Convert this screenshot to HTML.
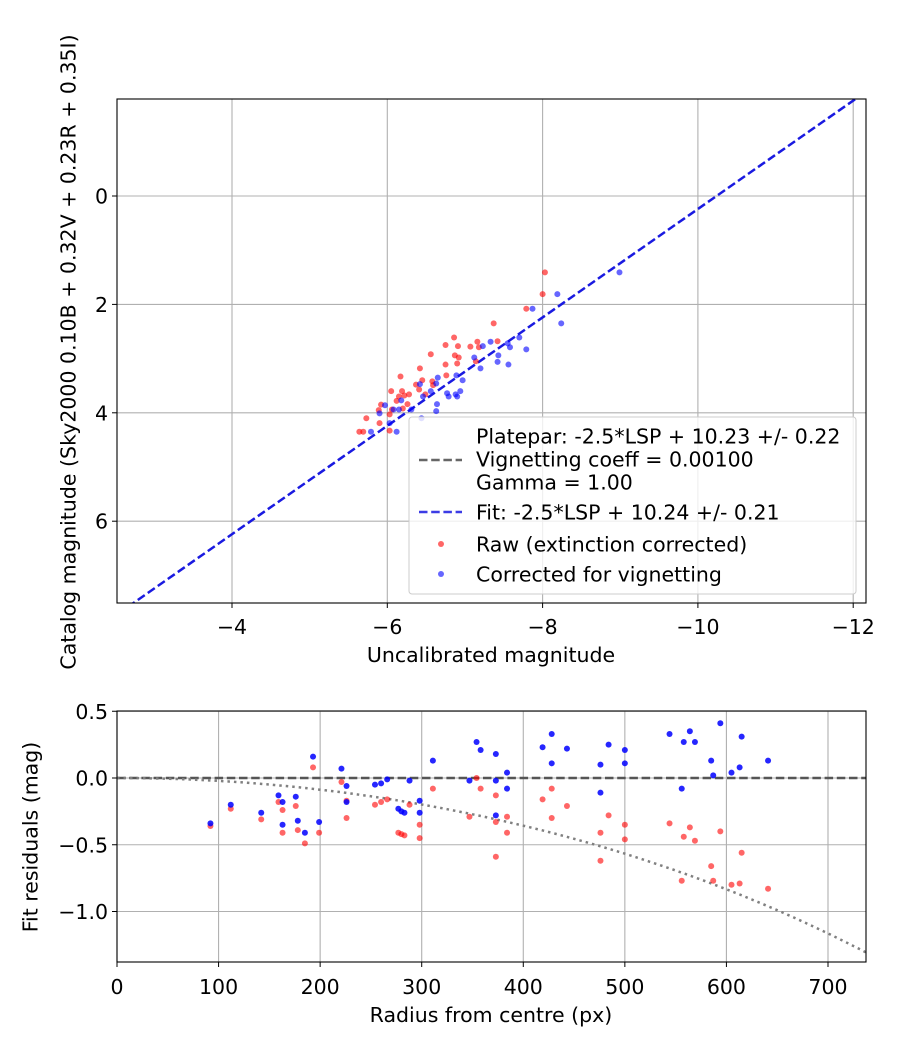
<!DOCTYPE html>
<html><head><meta charset="utf-8"><style>
body{margin:0;background:#fff;}
svg{display:block;font-family:"DejaVu Sans","Liberation Sans",sans-serif;}
</style></head><body>
<svg id="fig" width="900" height="1050" xmlns="http://www.w3.org/2000/svg"></svg>
<script>
// ---- top chart data ----
const rawX=[-8.03,-8.00,-7.79,-7.37,-7.42,-7.16,-7.07,-7.18,-6.86,-6.75,-6.91,-6.56,-6.87,-6.92,-6.75,-6.90,-7.14,-6.42,-6.76,-6.17,-6.45,-6.58,-6.37,-6.59,-6.41,-6.05,-6.19,-6.28,-6.15,-6.22,-6.49,-6.12,-5.92,-6.26,-5.89,-6.06,-6.20,-6.03,-5.73,-5.90,-5.69,-6.03,-5.64];
const rawY=[1.41,1.81,2.08,2.35,2.68,2.69,2.78,2.79,2.61,2.75,2.77,2.92,2.94,2.98,3.11,3.09,3.05,3.18,3.31,3.33,3.40,3.42,3.48,3.49,3.57,3.60,3.60,3.66,3.70,3.68,3.66,3.78,3.85,3.84,3.95,3.94,3.92,4.03,4.10,4.19,4.35,4.33,4.35];
const corX=[-8.99,-8.19,-7.87,-8.24,-7.70,-7.79,-7.58,-7.55,-7.33,-7.23,-7.12,-7.43,-7.42,-7.56,-7.20,-6.97,-6.89,-6.65,-6.63,-6.56,-6.77,-6.79,-6.88,-6.94,-6.90,-6.42,-6.46,-6.64,-6.63,-6.44,-6.18,-6.31,-6.15,-6.08,-5.97,-5.90,-5.79,-6.12,-6.03];
const corY=[1.41,1.81,2.08,2.35,2.61,2.83,2.79,2.72,2.69,2.77,2.98,2.94,3.06,3.11,3.18,3.40,3.31,3.35,3.46,3.60,3.64,3.70,3.66,3.60,3.70,3.47,3.70,3.84,3.97,4.10,3.77,3.94,3.94,3.94,3.86,4.01,4.35,4.35,4.19];
const fitZero=10.24;
const topXTicks=[-4,-6,-8,-10,-12];
const topYTicks=[0,2,4,6];
// ---- bottom chart data ----
const radius=[92,112,142,159,163,163,176,178,185,193,199,221,226,226,254,260,266,277,280,283,288,298,298,311,347,354,358,373,373,373,384,384,419,428,428,443,476,476,484,500,500,544,556,558,564,569,585,587,594,605,613,615,641];
const resRaw=[-0.36,-0.23,-0.31,-0.18,-0.41,-0.24,-0.21,-0.39,-0.49,0.08,-0.41,-0.03,-0.17,-0.30,-0.20,-0.18,-0.16,-0.41,-0.42,-0.43,-0.20,-0.45,-0.35,-0.08,-0.29,0.00,-0.08,-0.33,-0.59,-0.13,-0.29,-0.41,-0.16,-0.08,-0.30,-0.21,-0.41,-0.62,-0.28,-0.35,-0.46,-0.34,-0.77,-0.44,-0.37,-0.47,-0.66,-0.77,-0.40,-0.80,-0.79,-0.56,-0.83];
const resCor=[-0.34,-0.20,-0.26,-0.13,-0.35,-0.18,-0.14,-0.32,-0.41,0.16,-0.33,0.07,-0.06,-0.18,-0.05,-0.04,-0.01,-0.23,-0.25,-0.26,-0.02,-0.26,-0.17,0.13,-0.02,0.27,0.21,-0.02,-0.28,0.18,0.04,-0.08,0.23,0.33,0.11,0.22,0.10,-0.11,0.25,0.21,0.11,0.33,-0.08,0.27,0.35,0.27,0.13,0.02,0.41,0.04,0.08,0.31,0.13];
const vignetteCoeff=0.001;
const botXTicks=[0,100,200,300,400,500,600,700];
const botYTicks=[0.5,0.0,-0.5,-1.0];

const NS="http://www.w3.org/2000/svg";
const FS=20.5;
const svg=document.getElementById('fig');
function mk(tag,attrs,parent){const e=document.createElementNS(NS,tag);for(const k in attrs)e.setAttribute(k,attrs[k]);(parent||svg).appendChild(e);return e;}
function txt(s,attrs,parent){const e=mk('text',attrs,parent);e.textContent=s;return e;}

const T={l:117,r:866,t:99,b:603};
const tx=v=>232+(-v-4)*77.65;
const ty=v=>196+v*54.2;
const B={l:117,r:866,t:711,b:962};
const bx=v=>117+v*1.0157;
const by=v=>778-v*133.5;
const MR=3;

// ---------- TOP ----------
const gTop=mk('g',{});


const clipT=mk('clipPath',{id:'ct'});mk('rect',{x:T.l,y:T.t,width:T.r-T.l,height:T.b-T.t},clipT);
for(const v of topXTicks){const l=mk('line',{x1:tx(v),x2:tx(v),y1:T.t,y2:T.b,stroke:'#b0b0b0','stroke-width':1.1},gTop);}
for(const v of topYTicks){const l=mk('line',{x1:T.l,x2:T.r,y1:ty(v),y2:ty(v),stroke:'#b0b0b0','stroke-width':1.1},gTop);}
const fit=mk('line',{x1:tx(-2.4),y1:ty(-2.4+fitZero),x2:tx(-12.3),y2:ty(-12.3+fitZero),stroke:'#1a1ae0','stroke-width':2.5,'stroke-dasharray':'8.5,3.7','clip-path':'url(#ct)'},gTop);

rawX.forEach((x,i)=>{const c=mk('circle',{cx:tx(x),cy:ty(rawY[i]),r:MR,fill:'#ff0000','fill-opacity':0.6,'clip-path':'url(#ct)'},gTop);});
corX.forEach((x,i)=>{const c=mk('circle',{cx:tx(x),cy:ty(corY[i]),r:MR,fill:'#0000ff','fill-opacity':0.6,'clip-path':'url(#ct)'},gTop);});
mk('rect',{x:T.l,y:T.t,width:T.r-T.l,height:T.b-T.t,fill:'none',stroke:'#000','stroke-width':1.1},gTop);
for(const v of topXTicks){mk('line',{x1:tx(v),x2:tx(v),y1:T.b,y2:T.b+5,stroke:'#000'},gTop);const t=txt('\u2212'+Math.abs(v),{x:tx(v),y:T.b+31,'font-size':FS,'text-anchor':'middle'},gTop);}
for(const v of topYTicks){mk('line',{x1:T.l-5,x2:T.l,y1:ty(v),y2:ty(v),stroke:'#000'},gTop);const t=txt(String(v),{x:T.l-9,y:ty(v)+7.5,'font-size':FS,'text-anchor':'end'},gTop);}
const xl=txt('Uncalibrated magnitude',{x:491,y:662,'font-size':FS,'text-anchor':'middle'},gTop);
const yl=txt('Catalog magnitude (Sky2000 0.10B + 0.32V + 0.23R + 0.35I)',{x:0,y:0,'font-size':FS,'text-anchor':'middle',transform:'translate(75.5,352) rotate(-90)'},gTop);
// legend
const lg=mk('g',{},gTop);
mk('rect',{x:409,y:417,width:447,height:177,rx:3,fill:'#fff','fill-opacity':0.8,stroke:'#ccc'},lg);
const L=[['Platepar: -2.5*LSP + 10.23 +/- 0.22',443.5],['Vignetting coeff = 0.00100',466.5],['Gamma = 1.00',489.5],['Fit: -2.5*LSP + 10.24 +/- 0.21',519.5],['Raw (extinction corrected)',551.5],['Corrected for vignetting',581.5]];
L.forEach(([s,y])=>{const t=txt(s,{x:476,y:y,'font-size':FS},lg);});
mk('line',{x1:419,x2:462,y1:460,y2:460,stroke:'#666','stroke-width':2.5,'stroke-dasharray':'8.5,3.7'},lg);
mk('line',{x1:419,x2:462,y1:512,y2:512,stroke:'#1a1ae0','stroke-width':2.5,'stroke-opacity':0.85,'stroke-dasharray':'8.5,3.7'},lg);
mk('circle',{cx:441,cy:544,r:MR,fill:'#ff0000','fill-opacity':0.6},lg);
mk('circle',{cx:441,cy:574,r:MR,fill:'#0000ff','fill-opacity':0.6},lg);

// ---------- BOTTOM ----------
const gB=mk('g',{});


const clipB=mk('clipPath',{id:'cb'});mk('rect',{x:B.l,y:B.t,width:B.r-B.l,height:B.b-B.t},clipB);
for(const v of botXTicks){const l=mk('line',{x1:bx(v),x2:bx(v),y1:B.t,y2:B.b,stroke:'#b0b0b0','stroke-width':1.1},gB);}
for(const v of botYTicks){const l=mk('line',{x1:B.l,x2:B.r,y1:by(v),y2:by(v),stroke:'#b0b0b0','stroke-width':1.1},gB);}
const zl=mk('line',{x1:B.l,x2:B.r,y1:by(0),y2:by(0),stroke:'#555','stroke-width':2.5,'stroke-dasharray':'8.5,3.7'},gB);
let d='';for(let r=0;r<=740;r+=5){const v=10*Math.log10(Math.cos(r*vignetteCoeff));d+=(r?'L':'M')+bx(r).toFixed(1)+','+by(v).toFixed(1);}
const vc=mk('path',{d:d,fill:'none',stroke:'#808080','stroke-width':2.5,'stroke-dasharray':'2.5,4','clip-path':'url(#cb)'},gB);
radius.forEach((r,i)=>{const c=mk('circle',{cx:bx(r),cy:by(resRaw[i]),r:MR,fill:'#ff0000','fill-opacity':0.6,'clip-path':'url(#cb)'},gB);});
radius.forEach((r,i)=>{const c=mk('circle',{cx:bx(r),cy:by(resCor[i]),r:MR,fill:'#0000ff','fill-opacity':0.85,'clip-path':'url(#cb)'},gB);});
mk('rect',{x:B.l,y:B.t,width:B.r-B.l,height:B.b-B.t,fill:'none',stroke:'#000','stroke-width':1.1},gB);
for(const v of botXTicks){mk('line',{x1:bx(v),x2:bx(v),y1:B.b,y2:B.b+5,stroke:'#000'},gB);const t=txt(String(v),{x:bx(v),y:B.b+32,'font-size':FS,'text-anchor':'middle'},gB);}
for(const v of botYTicks){mk('line',{x1:B.l-5,x2:B.l,y1:by(v),y2:by(v),stroke:'#000'},gB);const s=(v<0?'\u2212':'')+Math.abs(v).toFixed(1);const t=txt(s,{x:B.l-9,y:by(v)+7.5,'font-size':FS,'text-anchor':'end'},gB);}
const bxl=txt('Radius from centre (px)',{x:491,y:1022,'font-size':FS,'text-anchor':'middle'},gB);
const byl=txt('Fit residuals (mag)',{x:0,y:0,'font-size':FS,'text-anchor':'middle',transform:'translate(37.5,837) rotate(-90)'},gB);
</script>
</body></html>
